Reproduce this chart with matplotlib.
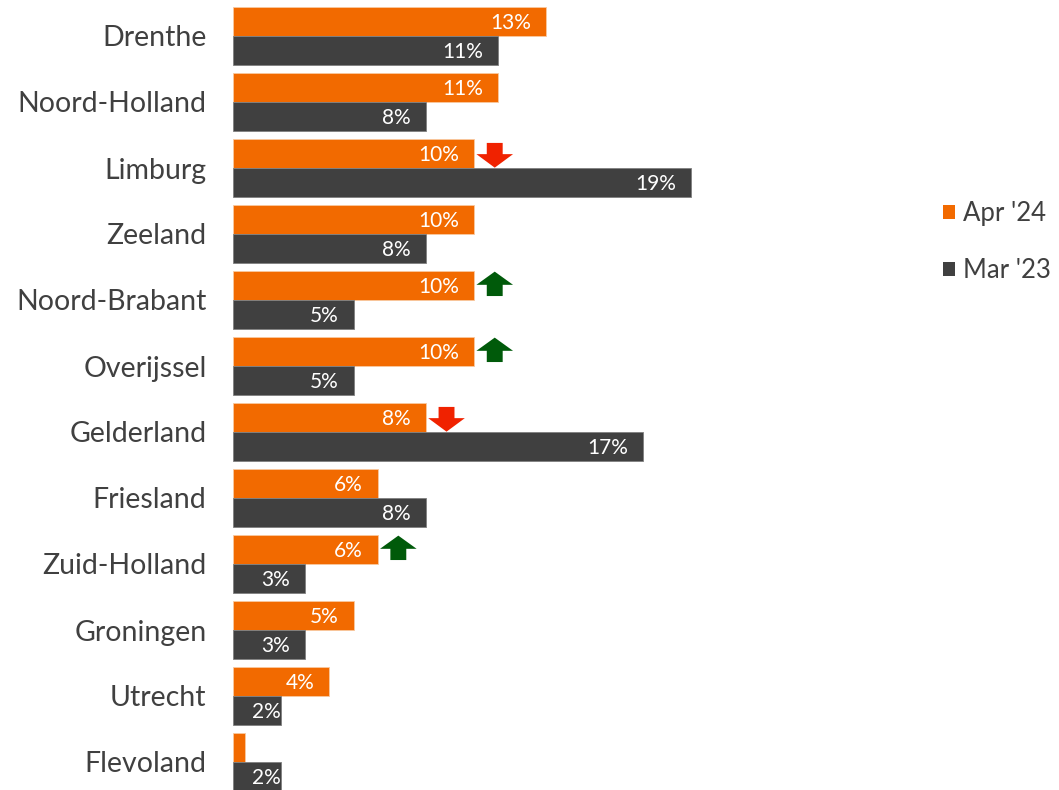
import numpy as np
import matplotlib.pyplot as plt
from matplotlib.patches import Patch, Polygon

# provinces, top to bottom
provinces = ['Drenthe', 'Noord-Holland', 'Limburg', 'Zeeland', 'Noord-Brabant',
             'Overijssel', 'Gelderland', 'Friesland', 'Zuid-Holland', 'Groningen',
             'Utrecht', 'Flevoland']
apr24 = [13, 11, 10, 10, 10, 10, 8, 6, 6, 5, 4, 0.5]
mar23 = [11, 8, 19, 8, 5, 5, 17, 8, 3, 3, 2, 2]
apr24_labels = ['13%', '11%', '10%', '10%', '10%', '10%', '8%', '6%', '6%', '5%', '4%', '']
mar23_labels = ['11%', '8%', '19%', '8%', '5%', '5%', '17%', '8%', '3%', '3%', '2%', '2%']
# trend markers next to the Apr '24 bar
trend = {'Limburg': 'down', 'Noord-Brabant': 'up', 'Overijssel': 'up',
         'Gelderland': 'down', 'Zuid-Holland': 'up'}

ORANGE = '#F26A00'
DARK = '#404040'
TXT = '#404040'
UP_C = '#005A0A'
DOWN_C = '#F02200'

plt.rcParams['font.family'] = ['Lato', 'DejaVu Sans']

fig = plt.figure(figsize=(10.59, 7.90), dpi=100)
ax = fig.add_axes([233 / 1059, 0, 687 / 1059, 1])

y = np.arange(len(provinces))
h = 0.44
ax.barh(y - h / 2, apr24, height=h, color=ORANGE, edgecolor='#F9C9A0', linewidth=0.6)
ax.barh(y + h / 2, mar23, height=h, color=DARK, edgecolor='#7F7F7F', linewidth=0.6)

def bar_label(v, yy, s):
    if not s:
        return
    pad = 0.62 if v > 2.5 else 0.0
    ax.text(v - pad, yy + 0.02, s, ha='right', va='center', color='white', fontsize=15)

for i in range(len(provinces)):
    bar_label(apr24[i], y[i] - h / 2, apr24_labels[i])
    bar_label(mar23[i], y[i] + h / 2, mar23_labels[i])

# block arrows drawn in data units (x in %, y in group units)
for i, name in enumerate(provinces):
    if name not in trend:
        continue
    x0 = apr24[i] + 0.1
    w, sw = 1.52, 0.66
    xc = x0 + w / 2
    c = y[i]
    if trend[name] == 'down':
        pts = [(xc - sw / 2, c - 0.38), (xc + sw / 2, c - 0.38), (xc + sw / 2, c - 0.21),
               (x0 + w, c - 0.21), (xc, c - 0.005), (x0, c - 0.21), (xc - sw / 2, c - 0.21)]
        col = DOWN_C
    else:
        pts = [(xc - sw / 2, c - 0.06), (xc + sw / 2, c - 0.06), (xc + sw / 2, c - 0.23),
               (x0 + w, c - 0.23), (xc, c - 0.43), (x0, c - 0.23), (xc - sw / 2, c - 0.23)]
        col = UP_C
    ax.add_patch(Polygon(pts, closed=True, color=col, lw=0))

ax.set_xlim(0, 687 / 24.1)
ax.set_ylim((790 - 36) / 66, -36 / 66)
ax.set_yticks(y)
ax.set_yticklabels(provinces, fontsize=20.5, color=TXT)
ax.tick_params(axis='y', length=0, pad=19)
ax.set_xticks([])
for sp in ax.spines.values():
    sp.set_visible(False)

handles = [Patch(facecolor=ORANGE, label="Apr '24"), Patch(facecolor=DARK, label="Mar '23")]
fig.legend(handles=handles, loc='upper left', bbox_to_anchor=(943 / 1059, 1 - 201 / 790),
           frameon=False, fontsize=18.5, handlelength=0.48, handleheight=0.45,
           handletextpad=0.3, labelspacing=1.25, borderpad=0, borderaxespad=0,
           labelcolor=TXT)

fig.savefig('out.png', dpi=100)
